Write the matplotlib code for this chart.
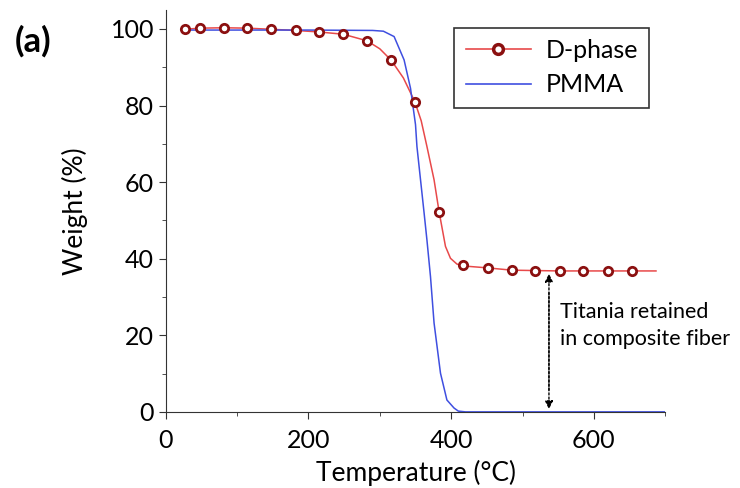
import matplotlib.pyplot as plt

plt.rcParams['font.family'] = ['Lato', 'DejaVu Sans']

# D-phase markers
dphase_T = [27, 48, 81, 114, 148, 182, 215, 249, 282, 316, 349, 383, 417, 451, 485, 518, 552, 585, 620, 653]
dphase_W = [99.9, 100.2, 100.3, 100.2, 99.9, 99.6, 99.2, 98.6, 96.9, 91.8, 81.0, 52.3, 38.3, 37.6, 37.0, 36.9, 36.8, 36.8, 36.8, 36.8]

# D-phase curve (denser reading of the drawn line)
dline_T = [27, 48, 81, 114, 148, 182, 215, 249, 282, 300, 316, 333, 349, 358, 366, 376, 383,
           392, 399, 408, 417, 451, 485, 518, 552, 585, 620, 653, 687]
dline_W = [99.9, 100.2, 100.3, 100.2, 99.9, 99.6, 99.2, 98.6, 96.9, 94.8, 91.8, 87.2, 81.0, 76.0, 69.3, 60.6, 52.3,
           43.2, 40.1, 38.6, 38.1, 37.6, 37.0, 36.9, 36.8, 36.8, 36.8, 36.8, 36.8]

# PMMA curve
pmma_T = [27, 100, 200, 290, 305, 320, 334, 343, 350, 352, 362, 366, 371, 376, 385, 394, 404, 410, 420, 700]
pmma_W = [99.7, 99.7, 99.7, 99.6, 99.4, 98.0, 91.9, 84.5, 75.0, 69.3, 52.0, 44.9, 35.3, 23.2, 10.1, 3.1, 1.0, 0.2, 0.0, 0.0]

arrow_T = 537
arrow_top = 36.8
arrow_bottom = 0.0

fig = plt.figure(figsize=(7.4, 4.88), dpi=100)
ax = fig.add_axes([0.224, 0.156, 0.675, 0.824])

red = '#e8494a'
dark = '#8b1010'
blue = '#3f4fe0'

ax.plot(dline_T, dline_W, color=red, lw=1.1, zorder=2)
ax.plot(dphase_T, dphase_W, ls='none', marker='o', ms=6, mfc='white', mec=dark, mew=2, zorder=3)
ax.plot(pmma_T, pmma_W, color=blue, lw=1.1, zorder=2)

# legend proxies
h1, = ax.plot([], [], color=red, lw=1.2, marker='o', ms=7, mfc='white', mec=dark, mew=2.5)
h2, = ax.plot([], [], color=blue, lw=1.2)
leg = ax.legend([h1, h2], ['D-phase', 'PMMA'], loc='upper right', bbox_to_anchor=(0.968, 0.955),
                fontsize=18, fancybox=False, edgecolor='#333333', framealpha=1,
                handlelength=2.6, borderpad=0.45, labelspacing=0.45, handletextpad=0.6,
                borderaxespad=0)
leg.get_frame().set_linewidth(1.2)

ax.annotate('', xy=(arrow_T, arrow_top), xytext=(arrow_T, arrow_bottom + 5),
            arrowprops=dict(arrowstyle='-|>', color='black', lw=1, ls=(0, (1.5, 1.5)), mutation_scale=12))
ax.annotate('', xy=(arrow_T, arrow_bottom), xytext=(arrow_T, arrow_top - 5),
            arrowprops=dict(arrowstyle='-|>', color='black', lw=1, ls=(0, (1.5, 1.5)), mutation_scale=12))
ax.text(552, 22.5, 'Titania retained\nin composite fiber', fontsize=15.5, va='center', ha='left',
        linespacing=1.45)

ax.set_xlim(0, 700)
ax.set_ylim(0, 105)
ax.set_xticks([0, 200, 400, 600])
ax.set_xticks([100, 300, 500, 700], minor=True)
ax.set_yticks([0, 20, 40, 60, 80, 100])
ax.set_yticks([10, 30, 50, 70, 90], minor=True)
ax.spines['top'].set_visible(False)
ax.spines['right'].set_visible(False)
for s in ['left', 'bottom']:
    ax.spines[s].set_color('#333333')
ax.tick_params(which='major', direction='out', length=5, labelsize=18, color='#333333')
ax.tick_params(axis='x', which='major', pad=7)
ax.tick_params(which='minor', direction='out', length=3, color='#333333')
ax.set_xlabel('Temperature (°C)', fontsize=19, labelpad=6)
ax.set_ylabel('Weight (%)', fontsize=19, labelpad=16)

fig.text(0.02, 0.895, '(a)', fontsize=25, fontweight='bold')

fig.savefig('out.png', dpi=100)
